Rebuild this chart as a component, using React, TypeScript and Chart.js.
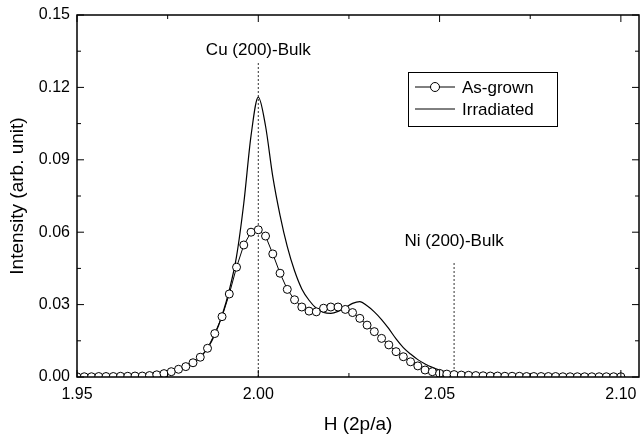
import { useEffect, useRef } from "react";
import { Chart, registerables } from "chart.js";

Chart.register(...registerables);

const H = [
  1.95, 1.952, 1.954, 1.956, 1.958, 1.96, 1.962, 1.964, 1.966, 1.968,
  1.97, 1.972, 1.974, 1.976, 1.978, 1.98, 1.982, 1.984, 1.986, 1.988,
  1.99, 1.992, 1.994, 1.996, 1.998, 2.0, 2.002, 2.004, 2.006, 2.008,
  2.01, 2.012, 2.014, 2.016, 2.018, 2.02, 2.022, 2.024, 2.026, 2.028,
  2.03, 2.032, 2.034, 2.036, 2.038, 2.04, 2.042, 2.044, 2.046, 2.048,
  2.05, 2.052, 2.054, 2.056, 2.058, 2.06, 2.062, 2.064, 2.066, 2.068,
  2.07, 2.072, 2.074, 2.076, 2.078, 2.08, 2.082, 2.084, 2.086, 2.088,
  2.09, 2.092, 2.094, 2.096, 2.098, 2.1,
];

const asGrown = [
  0.0001, 0.0001, 0.0001, 0.0002, 0.0002, 0.0002, 0.0003, 0.0003, 0.0004, 0.0004,
  0.0006, 0.0009, 0.0014, 0.0022, 0.0032, 0.0043, 0.0059, 0.0082, 0.0119, 0.018,
  0.025, 0.0344, 0.0455, 0.0547, 0.06, 0.061, 0.0584, 0.051, 0.043, 0.0363,
  0.032, 0.029, 0.0273, 0.027, 0.0285, 0.029, 0.029, 0.028, 0.0267, 0.0243,
  0.0215, 0.0188, 0.016, 0.0133, 0.0105, 0.0084, 0.0063, 0.0046, 0.0029, 0.0022,
  0.0015, 0.0012, 0.001, 0.0008, 0.0007, 0.0006, 0.0005, 0.0004, 0.0004, 0.0003,
  0.0003, 0.0003, 0.0002, 0.0002, 0.0002, 0.0002, 0.0002, 0.0001, 0.0001, 0.0001,
  0.0001, 0.0001, 0.0001, 0.0001, 0.0001, 0.0001,
];

const irradiated = [
  0.0001, 0.0001, 0.0002, 0.0002, 0.0003, 0.0003, 0.0004, 0.0005, 0.0006, 0.0008,
  0.001, 0.0013, 0.0017, 0.0023, 0.0031, 0.0042, 0.0058, 0.0082, 0.0118, 0.0175,
  0.0255, 0.036, 0.05, 0.072, 0.1, 0.116, 0.104, 0.083, 0.067, 0.054,
  0.044, 0.0365, 0.0318, 0.0285, 0.0268, 0.0264, 0.0272, 0.0288, 0.0305, 0.0312,
  0.0295, 0.027, 0.0238, 0.02, 0.0158, 0.0122, 0.0095, 0.0072, 0.0054, 0.004,
  0.0029, 0.0021, 0.0015, 0.0011, 0.0008, 0.0006, 0.0005, 0.0004, 0.0003, 0.0003,
  0.0002, 0.0002, 0.0002, 0.0002, 0.0001, 0.0001, 0.0001, 0.0001, 0.0001, 0.0001,
  0.0001, 0.0001, 0.0001, 0.0001, 0.0001, 0.0001,
];

const xMajor = [1.95, 2.0, 2.05, 2.1];
const xMinor = [1.975, 2.025, 2.075];
const yMajor = [0, 0.03, 0.06, 0.09, 0.12, 0.15];
const yMinor = [0.015, 0.045, 0.075, 0.105, 0.135];

const seriesNames = ["As-grown", "Irradiated"];
const markers = [
  { label: "Cu (200)-Bulk", x: 2.0, top: 0.1305, textY: 0.1355 },
  { label: "Ni (200)-Bulk", x: 2.054, top: 0.0477, textY: 0.0564 },
];

const FONT = "'Liberation Sans', Arial, Helvetica, sans-serif";

const framePlugin = {
  id: "frameAndNotes",
  afterDraw(chart: any) {
    const { ctx, chartArea: a, scales } = chart;
    const x = scales.x;
    const y = scales.y;
    ctx.save();
    ctx.strokeStyle = "#000";
    ctx.lineWidth = 1.5;
    ctx.strokeRect(a.left, a.top, a.right - a.left, a.bottom - a.top);
    ctx.lineWidth = 1;
    ctx.beginPath();
    for (const v of xMajor) {
      const px = x.getPixelForValue(v);
      ctx.moveTo(px, a.bottom);
      ctx.lineTo(px, a.bottom - 7);
      ctx.moveTo(px, a.top);
      ctx.lineTo(px, a.top + 7);
    }
    for (const v of xMinor) {
      const px = x.getPixelForValue(v);
      ctx.moveTo(px, a.bottom);
      ctx.lineTo(px, a.bottom - 4);
      ctx.moveTo(px, a.top);
      ctx.lineTo(px, a.top + 4);
    }
    for (const v of yMajor) {
      const py = y.getPixelForValue(v);
      ctx.moveTo(a.left, py);
      ctx.lineTo(a.left + 7, py);
      ctx.moveTo(a.right, py);
      ctx.lineTo(a.right - 7, py);
    }
    for (const v of yMinor) {
      const py = y.getPixelForValue(v);
      ctx.moveTo(a.left, py);
      ctx.lineTo(a.left + 4, py);
      ctx.moveTo(a.right, py);
      ctx.lineTo(a.right - 4, py);
    }
    ctx.stroke();

    // marker labels
    ctx.fillStyle = "#000";
    ctx.font = `17px ${FONT}`;
    ctx.textAlign = "center";
    ctx.textBaseline = "middle";
    for (const m of markers) {
      ctx.fillText(m.label, x.getPixelForValue(m.x), y.getPixelForValue(m.textY));
    }

    // legend
    const bx = 408, by = 72, bw = 149, bh = 54;
    ctx.lineWidth = 1;
    ctx.strokeRect(bx + 0.5, by + 0.5, bw, bh);
    const rows = [by + 15, by + 37];
    ctx.textAlign = "left";
    ctx.font = `17px ${FONT}`;
    rows.forEach((ry, i) => {
      ctx.beginPath();
      ctx.moveTo(bx + 7, ry);
      ctx.lineTo(bx + 47, ry);
      ctx.lineWidth = 1;
      ctx.stroke();
      if (i === 0) {
        ctx.beginPath();
        ctx.arc(bx + 27, ry, 4.5, 0, Math.PI * 2);
        ctx.fillStyle = "#fff";
        ctx.fill();
        ctx.stroke();
      }
      ctx.fillStyle = "#000";
      ctx.fillText(seriesNames[i], bx + 54, ry + 1);
    });
    ctx.restore();
  },
};

export default function App() {
  const ref = useRef<HTMLCanvasElement | null>(null);
  useEffect(() => {
    if (!ref.current) return;
    const chart = new Chart(ref.current, {
      type: "line",
      data: {
        datasets: [
          {
            label: seriesNames[0],
            data: H.map((h, i) => ({ x: h, y: asGrown[i] })),
            borderColor: "#000",
            borderWidth: 1,
            pointRadius: 4,
            pointBorderWidth: 1,
            pointBackgroundColor: "#fff",
            pointBorderColor: "#000",
            tension: 0,
          },
          {
            label: seriesNames[1],
            data: H.map((h, i) => ({ x: h, y: irradiated[i] })),
            borderColor: "#000",
            borderWidth: 1.2,
            pointRadius: 0,
            cubicInterpolationMode: "monotone",
          },
          ...markers.map((m) => ({
            label: m.label,
            data: [
              { x: m.x, y: 0 },
              { x: m.x, y: m.top },
            ],
            borderColor: "#333",
            borderWidth: 1,
            borderDash: [2, 2],
            pointRadius: 0,
          })),
        ],
      },
      options: {
        animation: false,
        responsive: false,
        devicePixelRatio: 1,
        layout: { padding: { top: 15, right: 3, left: 0, bottom: 0 } },
        plugins: { legend: { display: false }, tooltip: { enabled: false } },
        scales: {
          x: {
            type: "linear",
            min: 1.95,
            max: 2.105,
            grid: { display: false, drawTicks: false },
            border: { display: false },
            afterBuildTicks: (s: any) => {
              s.ticks = xMajor.map((v) => ({ value: v }));
            },
            afterFit: (s: any) => {
              s.height = 63;
              s.paddingLeft = 0;
              s.paddingRight = 0;
            },
            ticks: {
              color: "#000",
              font: { family: FONT, size: 16 },
              padding: 8,
              maxRotation: 0,
              callback: (v: any) => Number(v).toFixed(2),
            },
            title: {
              display: true,
              text: "H (2p/a)",
              color: "#000",
              font: { family: FONT, size: 19 },
              padding: { top: 0, bottom: 4 },
            },
          },
          y: {
            type: "linear",
            min: 0,
            max: 0.15,
            grid: { display: false, drawTicks: false },
            border: { display: false },
            afterBuildTicks: (s: any) => {
              s.ticks = yMajor.map((v) => ({ value: v }));
            },
            afterFit: (s: any) => {
              s.width = 77;
              s.paddingTop = 0;
              s.paddingBottom = 0;
            },
            ticks: {
              color: "#000",
              font: { family: FONT, size: 16 },
              padding: 7,
              callback: (v: any) => Number(v).toFixed(2),
            },
            title: {
              display: true,
              text: "Intensity (arb. unit)",
              color: "#000",
              font: { family: FONT, size: 19 },
              padding: { top: 6, bottom: 6 },
            },
          },
        },
      },
      plugins: [framePlugin],
    } as any);
    return () => chart.destroy();
  }, []);
  return (
    <div style={{ position: "absolute", left: 0, top: 0, width: 644, height: 440, background: "#fff" }}>
      <canvas ref={ref} width={644} height={440} style={{ width: 644, height: 440 }} />
    </div>
  );
}
